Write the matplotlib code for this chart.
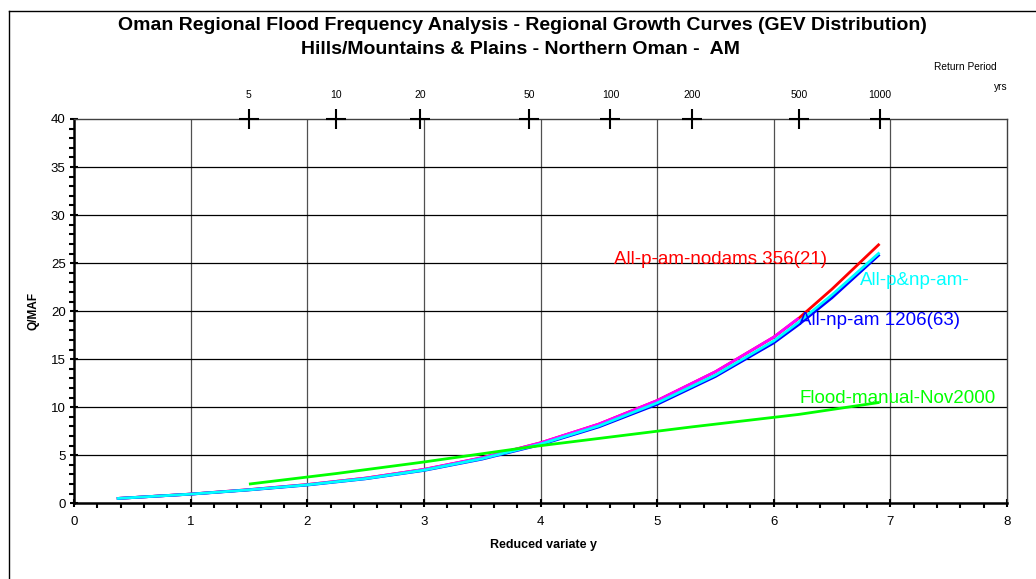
import matplotlib
matplotlib.use("Agg")
import matplotlib.pyplot as plt
from matplotlib.ticker import MultipleLocator
from matplotlib.lines import Line2D

plt.rcParams['font.family'] = ['Liberation Sans', 'DejaVu Sans']

# Return periods (years) and their reduced variate positions
return_periods = [5, 10, 20, 50, 100, 200, 500, 1000]
rp_variate = [1.500, 2.250, 2.970, 3.902, 4.600, 5.296, 6.214, 6.907]

# Curve positions along the reduced variate axis
y_full = [0.367, 1.0, 1.5, 2.0, 2.5, 3.0, 3.5, 4.0, 4.5, 5.0, 5.5, 6.0, 6.214, 6.5, 6.907]

nodams_vals = [0.5, 0.96, 1.42, 1.95, 2.62, 3.52, 4.74, 6.29, 8.24, 10.69, 13.69, 17.29, 19.25, 22.3, 27.0]   # red
p_np_vals = [0.5, 0.955, 1.40, 1.92, 2.57, 3.45, 4.65, 6.16, 8.05, 10.45, 13.35, 16.9, 18.85, 21.7, 26.1]     # cyan
np_vals = [0.5, 0.95, 1.39, 1.90, 2.55, 3.42, 4.60, 6.10, 7.95, 10.30, 13.20, 16.7, 18.6, 21.4, 25.9]         # blue
magenta_x = [0.367, 1.0, 1.5, 2.0, 2.5, 3.0, 3.5, 4.0, 4.5, 5.0, 5.5, 6.0, 6.214]
magenta_vals = [0.5, 0.96, 1.42, 1.95, 2.62, 3.53, 4.75, 6.30, 8.25, 10.70, 13.70, 17.30, 19.28]

flood_x = [1.500, 2.250, 2.970, 3.902, 4.600, 5.296, 6.214, 6.907]
flood_vals = [2.0, 3.10, 4.25, 5.85, 6.90, 7.95, 9.25, 10.50]

W, H = 1036, 579
fig = plt.figure(figsize=(W / 100, H / 100), dpi=100)
fig.patch.set_facecolor('white')

# outer chart border (left and top)
fig.add_artist(Line2D([8.5 / W, 8.5 / W], [0, 1 - 10.5 / H], color='black', lw=1.0,
                      transform=fig.transFigure))
fig.add_artist(Line2D([8.5 / W, 1.0], [1 - 10.5 / H, 1 - 10.5 / H], color='black', lw=1.0,
                      transform=fig.transFigure))

x0, x1 = 74, 1007
yt, yb = 119, 503.3
ax = fig.add_axes([x0 / W, 1 - yb / H, (x1 - x0) / W, (yb - yt) / H])
ax.set_xlim(0, 8)
ax.set_ylim(0, 40)

# grid
for gx in range(1, 8):
    ax.axvline(gx, color='#505050', lw=0.9, zorder=1)
for gy in range(5, 40, 5):
    ax.axhline(gy, color='black', lw=0.9, zorder=1)

for s in ['top', 'right']:
    ax.spines[s].set_color('#404040')
    ax.spines[s].set_linewidth(1.0)
for s in ['left', 'bottom']:
    ax.spines[s].set_color('black')
    ax.spines[s].set_linewidth(1.8)

ax.xaxis.set_major_locator(MultipleLocator(1))
ax.xaxis.set_minor_locator(MultipleLocator(0.2))
ax.yaxis.set_major_locator(MultipleLocator(5))
ax.yaxis.set_minor_locator(MultipleLocator(1))
ax.tick_params(which='major', direction='inout', length=6, width=1.5, labelsize=9.5, pad=6)
ax.tick_params(which='minor', direction='out', length=3.5, width=1.5)
ax.tick_params(axis='y', which='major', pad=3)

# curves
kw = dict(lw=2.0, solid_capstyle='butt', solid_joinstyle='round')
ax.plot(y_full, nodams_vals, color='#ff0000', zorder=3, **kw)
ax.plot(magenta_x, magenta_vals, color='#ff00ff', zorder=4, **kw)
ax.plot(y_full, np_vals, color='#0000ff', zorder=5, **kw)
ax.plot(y_full, p_np_vals, color='#00ffff', zorder=6, **kw)
ax.plot(flood_x, flood_vals, color='#00ff00', zorder=7, **kw)

# return period markers on top
ax.plot(rp_variate, [40] * len(rp_variate), linestyle='none', marker='+', ms=15, mew=1.5,
        color='black', clip_on=False, zorder=8)
for xv, t in zip(rp_variate, return_periods):
    ax.annotate(str(t), xy=(xv, 40), xytext=(0, 17), textcoords='offset points',
                ha='center', va='center', fontsize=7.5)

fig.text(965 / W, 1 - 67 / H, 'Return Period', ha='center', va='center', fontsize=7.3)
fig.text(1001 / W, 1 - 87 / H, 'yrs', ha='center', va='center', fontsize=7.3)

# labels on curves
lab_fs = 13.5
ax.text(4.63, 25.4, 'All-p-am-nodams 356(21)', color='#ff0000', fontsize=lab_fs, va='center', ha='left', zorder=9)
ax.text(6.735, 23.2, 'All-p&np-am-', color='#00ffff', fontsize=lab_fs, va='center', ha='left', zorder=9)
ax.text(6.22, 19.0, 'All-np-am 1206(63)', color='#0000ff', fontsize=lab_fs, va='center', ha='left', zorder=9)
ax.text(6.22, 10.9, 'Flood-manual-Nov2000', color='#00ff00', fontsize=lab_fs, va='center', ha='left', zorder=9)

# titles
fig.text(522 / W, 1 - 25 / H,
         'Oman Regional Flood Frequency Analysis - Regional Growth Curves (GEV Distribution)',
         ha='center', va='center', fontsize=14, weight='bold')
fig.text(520 / W, 1 - 49 / H, 'Hills/Mountains & Plains - Northern Oman -  AM',
         ha='center', va='center', fontsize=14, weight='bold')

fig.text(33 / W, 1 - 311 / H, 'Q/MAF', rotation=90, ha='center', va='center', fontsize=8.6, weight='bold')
fig.text(543 / W, 1 - 545 / H, 'Reduced variate y', ha='center', va='center', fontsize=9, weight='bold')

fig.savefig('out.png', dpi=100)
